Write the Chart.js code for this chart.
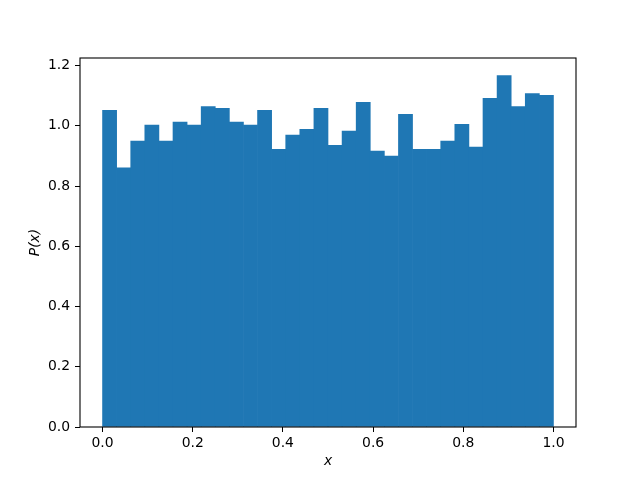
<!DOCTYPE html>
<html>
<head>
<meta charset="utf-8">
<script src="https://cdn.jsdelivr.net/npm/chart.js@4.4.0/dist/chart.umd.min.js"></script>
<style>
  html, body { margin: 0; padding: 0; background: #fff; }
  #wrap { width: 640px; height: 480px; }
</style>
</head>
<body>
<div id="wrap"><canvas id="myChart" width="640" height="480"></canvas></div>
<script>
// histogram of 32 equal bins over [0, 1]
const binCount = 32;
const binCenters = Array.from({ length: binCount }, (_, i) => (i + 0.5) / binCount);
const density = [
  1.051, 0.860, 0.949, 1.002, 0.949, 1.012, 1.002, 1.064,
  1.058, 1.012, 1.002, 1.051, 0.922, 0.969, 0.988, 1.058,
  0.935, 0.982, 1.078, 0.916, 0.899, 1.038, 0.922, 0.922,
  0.949, 1.005, 0.929, 1.091, 1.167, 1.064, 1.107, 1.101
];
const xTicks = [0.0, 0.2, 0.4, 0.6, 0.8, 1.0];
const yTicks = [0.0, 0.2, 0.4, 0.6, 0.8, 1.0, 1.2];

const barColor = "#1f77b4";
const font = { family: "DejaVu Sans", size: 13.9 };

// matplotlib draws spines on all four sides
const boxPlugin = {
  id: "box",
  afterDraw(chart) {
    const { ctx, chartArea: a } = chart;
    ctx.save();
    ctx.strokeStyle = "#000";
    ctx.lineWidth = 1.1;
    ctx.strokeRect(a.left, a.top, a.right - a.left, a.bottom - a.top);
    ctx.restore();
  }
};

new Chart("myChart", {
  type: "bar",
  data: {
    datasets: [{
      data: binCenters.map((x, i) => ({ x: x, y: density[i] })),
      backgroundColor: barColor,
      borderWidth: 0,
      barPercentage: 1.0,
      categoryPercentage: 1.0
    }]
  },
  options: {
    responsive: false,
    animation: false,
    layout: { padding: { left: 23, right: 64, top: 58, bottom: 0 } },
    plugins: { legend: { display: false }, tooltip: { enabled: false } },
    scales: {
      x: {
        type: "linear",
        min: -0.05,
        max: 1.05,
        offset: false,
        afterBuildTicks: s => { s.ticks = xTicks.map(v => ({ value: v })); },
        afterFit: s => { s.height = 53; },
        grid: { offset: false, drawOnChartArea: false, tickLength: 5, color: "#000", tickWidth: 1 },
        border: { display: false },
        ticks: { color: "#000", font: font, padding: 3, maxRotation: 0, callback: v => v.toFixed(1) },
        title: { display: true, text: "x", color: "#000", font: { family: "DejaVu Sans", size: 13.9, style: "italic" }, padding: { top: 0, bottom: 10 } }
      },
      y: {
        min: 0,
        max: 1.225,
        afterBuildTicks: s => { s.ticks = yTicks.map(v => ({ value: v })); },
        afterFit: s => { s.width = 57; },
        grid: { drawOnChartArea: false, tickLength: 5, color: "#000", tickWidth: 1 },
        border: { display: false },
        ticks: { color: "#000", font: font, padding: 5, callback: v => v.toFixed(1) },
        title: { display: true, text: "P(x)", color: "#000", font: { family: "DejaVu Sans", size: 13.9, style: "italic" }, padding: 4 }
      }
    }
  },
  plugins: [boxPlugin]
});
</script>
</body>
</html>
